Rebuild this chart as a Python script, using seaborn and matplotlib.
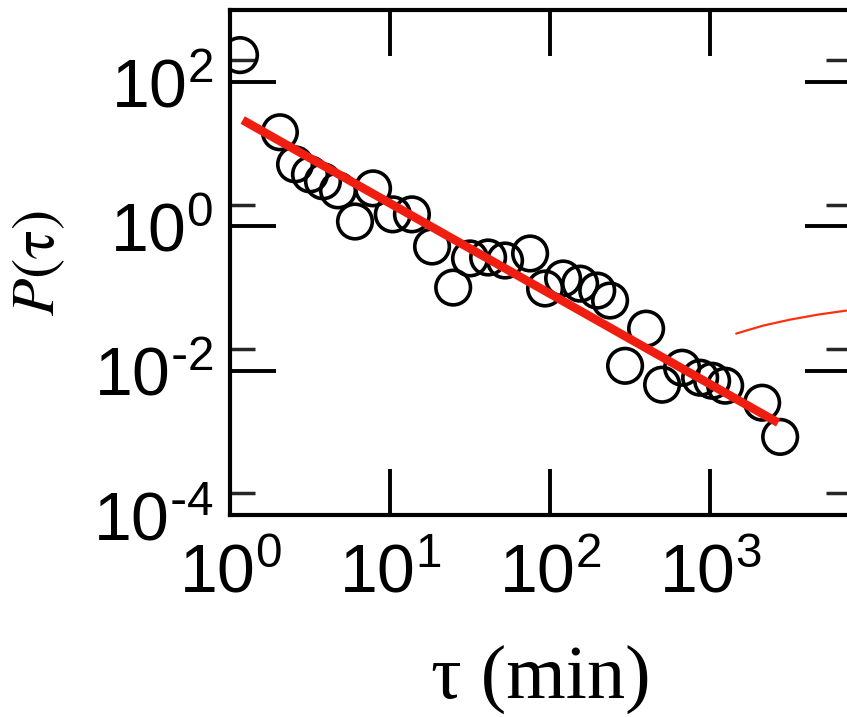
import numpy as np
import pandas as pd
import seaborn as sns
import matplotlib
matplotlib.use("Agg")
import matplotlib.pyplot as plt
from matplotlib import font_manager as fm
from matplotlib.ticker import FixedLocator, NullLocator, NullFormatter, FixedFormatter

# ---------------- data ----------------
tau = [1.155, 2.05, 2.55, 3.16, 3.81, 4.73, 6.04, 7.83, 10.4, 13.7,
       18.3, 24.8, 31.6, 41.0, 52.3, 75.0, 93.0, 120.6, 154.0, 197.0,
       237.0, 398.0, 294.0, 501.0, 668.0, 866.0, 1029.0, 1241.0, 2113.0, 2738.0]
p_tau = [237.0, 20.2, 7.26, 5.27, 4.22, 3.16, 1.17, 3.37, 1.47, 1.47,
         0.527, 0.142, 0.36, 0.371, 0.337, 0.422, 0.138, 0.19, 0.161, 0.129,
         0.094, 0.0383, 0.0117, 0.0064, 0.011, 0.008, 0.00726, 0.0062, 0.0036, 0.00121]

# power-law fit P ~ A * tau^-alpha, drawn between these tau values
fit_amp = 37.5
fit_alpha = 1.254
fit_tau = [1.2, 2661.0]

# stray red curve entering from the right edge
curve_x = [1454.0, 2143.0, 3162.0, 4732.0, 7080.0]
curve_y = [0.0327, 0.0422, 0.0511, 0.060, 0.0681]

x_ticks = [1e0, 1e1, 1e2, 1e3]
x_tick_labels = [r"$\mathdefault{10^{0}}$", r"$\mathdefault{10^{1}}$",
                 r"$\mathdefault{10^{2}}$", r"$\mathdefault{10^{3}}$"]
y_ticks = [1e-4, 1e-2, 1e0, 1e2]
y_tick_labels = [r"$\mathdefault{10^{\text{-}4}}$", r"$\mathdefault{10^{\text{-}2}}$",
                 r"$\mathdefault{10^{0}}$", r"$\mathdefault{10^{2}}$"]
y_minor_ticks = [2e-4, 2e-2, 2e0, 2e2]

# ---------------- style ----------------
sns.set_style("white")

def pick_font(cands):
    for c in cands:
        try:
            fm.findfont(fm.FontProperties(family=c), fallback_to_default=False)
            return c
        except Exception:
            pass
    return "DejaVu Sans"

sans = pick_font(["Liberation Sans Narrow", "Liberation Sans", "Arial"])
serif = pick_font(["Liberation Serif", "DejaVu Serif"])
narrow = "Narrow" in sans
plt.rcParams["font.family"] = [sans, "DejaVu Sans"]
plt.rcParams["text.color"] = "black"
plt.rcParams["axes.labelcolor"] = "black"

fig = plt.figure(figsize=(8.47, 7.17), dpi=100)
ax = fig.add_axes([230 / 847, 1 - 515 / 717, (851 - 230) / 847, (515 - 10) / 717])

df = pd.DataFrame({"tau": tau, "P": p_tau})
sns.scatterplot(data=df, x="tau", y="P", ax=ax, s=620, marker="o",
                facecolors="none", edgecolor="black", linewidth=2.6, zorder=3)

fit_x = np.array(fit_tau)
fit_y = fit_amp * fit_x ** (-fit_alpha)
sns.lineplot(x=fit_x, y=fit_y, ax=ax, color="#f01e10", linewidth=6.2,
             solid_capstyle="butt", zorder=4)
sns.lineplot(x=curve_x, y=curve_y, ax=ax, color="#ff3010", linewidth=1.6,
             zorder=4, clip_on=False)

ax.set_xscale("log")
ax.set_yscale("log")
ax.set_xlim(1, 10 ** 3.88)
ax.set_ylim(1e-4, 1e3)

ax.xaxis.set_major_locator(FixedLocator(x_ticks))
ax.xaxis.set_major_formatter(FixedFormatter(x_tick_labels))
ax.xaxis.set_minor_locator(NullLocator())
ax.yaxis.set_major_locator(FixedLocator(y_ticks))
ax.yaxis.set_major_formatter(FixedFormatter(y_tick_labels))
ax.yaxis.set_minor_locator(FixedLocator(y_minor_ticks))
ax.yaxis.set_minor_formatter(NullFormatter())

fs = 52 if narrow else 49
ax.tick_params(axis="both", which="major", direction="in", length=33, width=2.8,
               top=True, right=True, bottom=True, left=True,
               labelsize=fs, color="black", labelcolor="black")
ax.tick_params(axis="y", which="major", pad=12)
ax.tick_params(axis="x", which="major", pad=20)
ax.tick_params(axis="y", which="minor", direction="in", length=18, width=2.5,
               left=True, right=True)

for sp in ax.spines.values():
    sp.set_linewidth(3)
    sp.set_color("black")
    sp.set_visible(True)

ax.set_xlabel("τ (min)", fontsize=55, family=[serif, "DejaVu Serif"], color="black")
ax.xaxis.set_label_coords(0.5, (515 - 645) / 505)
ax.set_ylabel(r"$P(\mathrm{\tau})$", fontsize=44, math_fontfamily="stix", color="black")
ax.yaxis.set_label_coords((67 - 230) / 621, 0.5)

ax.grid(False)
fig.savefig("out.png", dpi=100, facecolor="white")
